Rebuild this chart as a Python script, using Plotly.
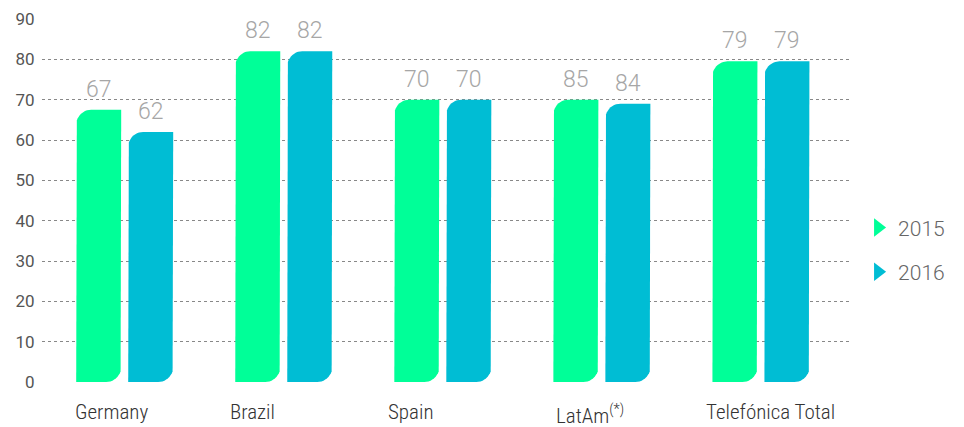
import numpy as np
import plotly.graph_objects as go

categories = ["Germany", "Brazil", "Spain", "LatAm<sup>(*)</sup>", "Telefónica Total"]
series_names = ["2015", "2016"]
values_2015 = [67.5, 82, 70, 70, 79.5]
values_2016 = [62, 82, 70, 69, 79.5]
labels_2015 = ["67", "82", "70", "85", "79"]
labels_2016 = ["62", "82", "70", "84", "79"]
y_ticks = [0, 10, 20, 30, 40, 50, 60, 70, 80, 90]

colors = ["#00FF98", "#00BDD4"]

W, H = 964, 427
ML, MR, MT, MB = 42, 114, 19, 45
plot_w = W - ML - MR
plot_h = H - MT - MB
x_range = [-0.52, len(categories) - 1 + 0.56]
y_range = [0, 90]
px_x = plot_w / (x_range[1] - x_range[0])
px_y = plot_h / (y_range[1] - y_range[0])

bar_w = 45 / px_x
offset = 26 / px_x
rx = 15 / px_x
ry = 15 / px_y


def leaf(x0, x1, h):
    t = np.linspace(0, np.pi / 2, 12)
    xs, ys = [x0], [0]
    cx, cy = x0 + rx, h - ry
    xs += list(cx - rx * np.cos(t))
    ys += list(cy + ry * np.sin(t))
    xs += [x1, x1]
    ys += [h, ry]
    cx, cy = x1 - rx, ry
    xs += list(cx + rx * np.cos(t))
    ys += list(cy - ry * np.sin(t))
    xs += [x0]
    ys += [0]
    return xs, ys


fig = go.Figure()
annotations = []
for s, (vals, labs, col, sign) in enumerate(
    [(values_2015, labels_2015, colors[0], -1), (values_2016, labels_2016, colors[1], 1)]
):
    for i, (v, lab) in enumerate(zip(vals, labs)):
        xc = i + sign * offset
        xs, ys = leaf(xc - bar_w / 2, xc + bar_w / 2, v)
        fig.add_trace(go.Scatter(x=xs, y=ys, fill="toself", fillcolor=col, mode="lines",
                                 line=dict(width=0, color=col), showlegend=False, hoverinfo="skip"))
        annotations.append(dict(x=xc, y=v, xref="x", yref="y", text=lab, showarrow=False,
                                yanchor="bottom", yshift=5,
                                font=dict(family="Roboto", size=23, color="#A6A6A6", weight=300)))
    fig.add_trace(go.Scatter(x=[None], y=[None], mode="markers", name=series_names[s],
                             legendgroup=series_names[s],
                             marker=dict(symbol="triangle-right", size=16, color=col)))

label_shift = [-13, -31, -32, -12, 10]
for i, c in enumerate(categories):
    annotations.append(dict(x=i, y=0, xref="x", yref="paper", text=c, showarrow=False,
                            yanchor="top", yshift=-16, xshift=label_shift[i],
                            font=dict(family="Roboto Condensed, DejaVu Sans Condensed, Roboto",
                                      size=21, color="#333333", weight=300)))

fig.update_layout(
    width=W, height=H,
    margin=dict(l=ML, r=MR, t=MT, b=MB, autoexpand=False),
    plot_bgcolor="white", paper_bgcolor="white",
    annotations=annotations,
    xaxis=dict(range=x_range, showgrid=False, zeroline=False, showticklabels=False,
               showline=False, fixedrange=True),
    yaxis=dict(range=y_range, tickvals=y_ticks, showgrid=True, gridcolor="#888888",
               griddash="dot", gridwidth=1, zeroline=False, showline=False,
               ticks="outside", ticklen=3, tickcolor="rgba(0,0,0,0)",
               tickfont=dict(family="Roboto", size=17, color="#555555")),
    legend=dict(x=1.01, y=0.364, xanchor="left", yanchor="middle",
                font=dict(family="Roboto", size=21, color="#666666", weight=300),
                tracegroupgap=14, itemwidth=30, traceorder="grouped"),
    showlegend=True,
)

fig.write_html("out.html")
